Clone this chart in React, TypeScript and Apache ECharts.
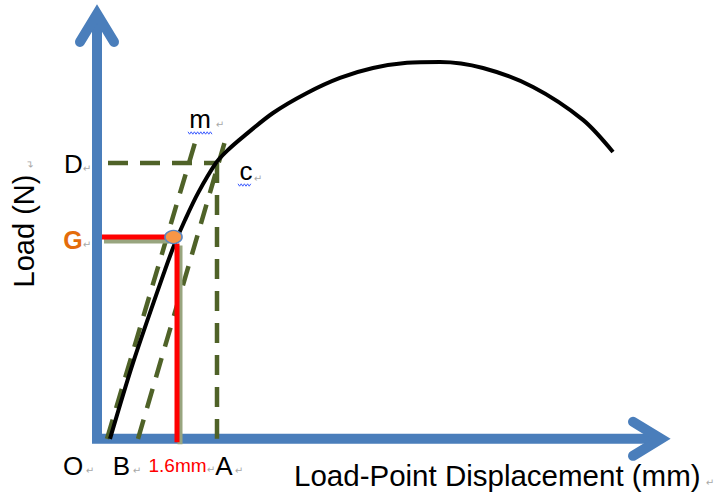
import React, { useEffect, useRef } from "react";
import * as echarts from "echarts";

// Load–displacement curve (x: mm, y: load units)
const curveX = [0.26, 0.72, 1.36, 1.56, 1.76, 2.02, 2.38, 2.6, 2.92, 3.52, 4.2, 4.86, 5.52, 6.2, 6.86, 7.72, 8.72, 9.72, 10.32];
const curveY = [0, 2.77, 6.16, 7.14, 7.98, 8.96, 10.06, 10.5, 11.01, 11.88, 12.61, 13.16, 13.52, 13.71, 13.74, 13.52, 12.83, 11.63, 10.46];

// Construction lines
const lineOm = [[0.2, 0], [1.96, 10.8]]; // secant through origin (m)
const lineBc = [[0.82, 0], [2.56, 10.85]]; // offset line through B
const lineAc = [[2.4, 10.06], [2.4, 0]]; // vertical from c to A
const lineDc = [[0.22, 10.06], [2.4, 10.06]]; // horizontal from D to c

// G point and 1.6 mm offset
const pointG = [1.53, 7.36];
const redH = [[0.1, 7.36], [1.4, 7.36]];
const redV = [[1.6, 7.12], [1.6, -0.12]];

// Axis frame and arrow heads
const yAxisArrow = [[-0.34, 14.47], [0, 15.49], [0.34, 14.47]];
const xAxisArrow = [[10.72, 0.62], [11.28, 0], [10.72, -0.62]];
const axesFrame = [[0, 15.3], [0, 0], [11.1, 0]];

const xTitle = "Load-Point Displacement (mm)";
const yTitle = "Load (N)";

const FONT = "'Liberation Sans', Arial, sans-serif";
const BLUE = "#4A7EBB";
const OLIVE = "#4F6228";
const SHADOW = "#98A57F";

function wavy(x0: number, x1: number, y: number) {
  const pts: number[][] = [];
  let up = true;
  for (let x = x0; x <= x1; x += 1.6) {
    pts.push([x, y + (up ? -1.2 : 1.2)]);
    up = !up;
  }
  return pts;
}

export default function App() {
  const ref = useRef<HTMLDivElement>(null);
  useEffect(() => {
    if (!ref.current) return;
    const chart = echarts.init(ref.current, undefined, { renderer: "svg" });
    const curve = curveX.map((x, i) => [x, curveY[i]]);
    const plain = (data: number[][], color: string, width: number, z: number, extra: any = {}) => ({
      type: "line",
      data,
      symbol: "none",
      silent: true,
      clip: false,
      lineStyle: { color, width, ...extra },
      z,
    });
    const dashed = (data: number[][]) => plain(data, OLIVE, 4.5, 3, { type: [20, 12] });
    // shadow offsets (a few pixels right / down) expressed in axis units
    const dx = 2 / 50;
    const dy = 4 / 27.43;
    const shadowH = redH.map(([x, y]) => [x + dx, y - dy]);
    const shadowV = redV.map(([x, y]) => [x + 1.5 * dx, y - dy / 2]);
    const txt = (text: string, x: number, y: number, extra: any = {}) => ({
      type: "text",
      x,
      y,
      style: {
        text,
        fontFamily: FONT,
        fontSize: 26,
        fill: "#000",
        align: "center",
        verticalAlign: "middle",
        ...extra,
      },
      z: 10,
    });
    const mark = (x: number, y: number, rotation = 0) => ({
      type: "text",
      x,
      y,
      rotation,
      style: {
        text: "\u21B5",
        fontFamily: "'DejaVu Sans', sans-serif",
        fontSize: 10,
        fill: "#a8a8a8",
        align: "center",
        verticalAlign: "middle",
      },
      z: 10,
    });
    chart.setOption({
      animation: false,
      backgroundColor: "#ffffff",
      grid: { left: 22, top: 0, width: 675, height: 480 },
      xAxis: { type: "value", min: -1.5, max: 12, show: false },
      yAxis: { type: "value", min: -1.5, max: 16, show: false },
      series: [
        plain(axesFrame, BLUE, 10, 1, { join: "miter", cap: "butt" }),
        plain(yAxisArrow, BLUE, 10, 1, { join: "miter", cap: "round" }),
        plain(xAxisArrow, BLUE, 10, 1, { join: "miter", cap: "round" }),
        dashed(lineOm),
        dashed(lineBc),
        dashed(lineAc),
        dashed(lineDc),
        { ...plain(curve, "#000", 4, 4), smooth: 0.3 },
        plain(shadowH, SHADOW, 5, 5),
        plain(shadowV, SHADOW, 5, 5),
        plain(redH, "#FF0000", 5, 6),
        plain(redV, "#FF0000", 5, 6),
        {
          type: "scatter",
          data: [pointG],
          symbol: "circle",
          symbolSize: [17, 13],
          itemStyle: { color: "#F79646", borderColor: "#5B86C0", borderWidth: 1.5, opacity: 1 },
          z: 7,
        },
      ],
      graphic: [
        { ...txt(yTitle, 24, 231, { fontSize: 29 }), rotation: Math.PI / 2 },
        txt("D", 73.5, 164),
        txt("G", 73, 240, { fill: "#E46C0A", fontWeight: "bold", fontSize: 25 }),
        txt("m", 200, 119),
        txt("c", 246, 171),
        txt("O", 73, 466),
        txt("B", 121.5, 466),
        txt("1.6mm", 177.5, 465.5, { fill: "#FF0000", fontSize: 19 }),
        txt("A", 224, 466),
        txt(xTitle, 294, 475, { fontSize: 29.5, align: "left" }),
        mark(87, 168),
        mark(87, 244),
        mark(220, 124),
        mark(258, 178),
        mark(90, 470),
        mark(137, 470),
        mark(211, 469),
        mark(239, 470),
        mark(710, 482),
        mark(30, 164, Math.PI / 2),
        {
          type: "polyline",
          shape: { points: wavy(188, 213, 133) },
          style: { stroke: "#3B5BFF", lineWidth: 1, fill: null },
          z: 10,
        },
        {
          type: "polyline",
          shape: { points: wavy(238, 251, 185) },
          style: { stroke: "#3B5BFF", lineWidth: 1, fill: null },
          z: 10,
        },
      ],
    });
    return () => chart.dispose();
  }, []);
  return <div ref={ref} style={{ width: 716, height: 492, position: "absolute", left: 0, top: 0 }} />;
}
